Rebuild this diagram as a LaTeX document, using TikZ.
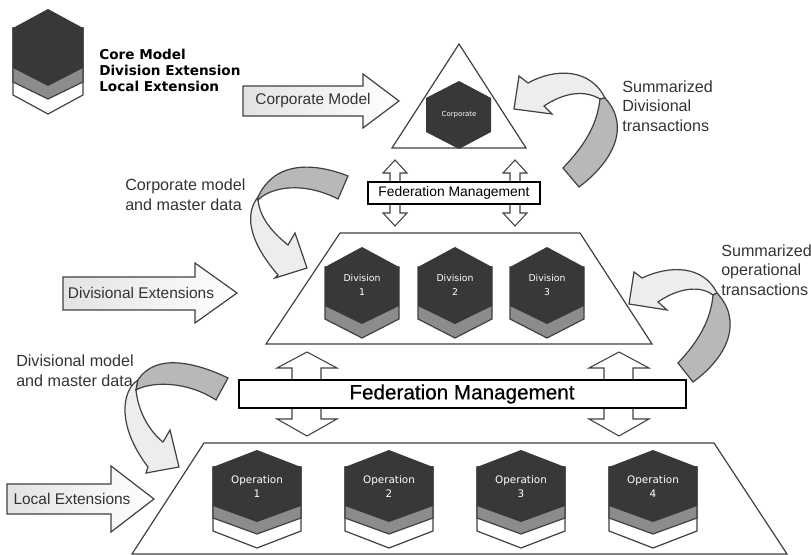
\documentclass[tikz,border=0pt]{standalone}
\usepackage{fontspec}
\setmainfont{Liberation Sans}
\newfontfamily\hexfont{DejaVu Sans}
\newfontfamily\fedfont[FakeBold=0.5]{Liberation Sans}
\usepackage{tikz}

\definecolor{line_gray}{gray}{0.25}
\definecolor{hex_dark}{gray}{0.22}
\definecolor{hex_mid}{gray}{0.55}
\definecolor{band_gray}{gray}{0.72}
\definecolor{text_gray}{gray}{0.2}

\tikzset{
	hex_line/.style={draw=line_gray,line width=0.9pt,line join=miter},
	hex_text/.style={text=white,font=\hexfont\fontsize{7}{10.2}\selectfont,align=center,inner sep=0pt},
	pics/op_hex/.style={code={
		\draw[hex_line,fill=white] (-44,17) -- (-44,81) -- (0,98) -- (44,81) -- (44,17) -- cycle;
		\draw[hex_line,fill=hex_mid] (-44,17) -- (-44,68) -- (0,84) -- (44,68) -- (44,17) -- cycle;
		\fill[hex_dark] (0,0) -- (44,17) -- (44,56) -- (0,72) -- (-44,56) -- (-44,17) -- cycle;
		\node[hex_text,font=\hexfont\fontsize{7.8}{10.5}\selectfont] (-label) at (0,37) {Operation\\#1};
	}},
	pics/div_hex/.style={code={
		\draw[hex_line,fill=hex_mid] (-37,20) -- (-37,72) -- (0,91) -- (37,72) -- (37,20) -- cycle;
		\fill[hex_dark] (0,0) -- (37,20) -- (37,59) -- (0,77) -- (-37,59) -- (-37,20) -- cycle;
		\node[hex_text] (-label) at (0,38) {Division\\#1};
	}}
}

\begin{document}
\begin{tikzpicture}[x=0.75pt,y=-0.75pt,
	flat_arrow/.style={draw=line_gray,line width=0.9pt,line join=miter,left color=gray!22,right color=white},
	curve_head/.style={draw=line_gray,line width=0.9pt,line join=miter,fill=gray!14},
	curve_band/.style={draw=line_gray,line width=0.9pt,line join=miter,fill=band_gray},
	twin_arrow/.style={draw=line_gray,line width=0.8pt,fill=white},
	tier_shape/.style={draw=line_gray,line width=0.9pt,fill=white},
	fed_box/.style={draw=black,line width=0.9pt,fill=white},
	note_label/.style={text=text_gray,font=\fontsize{12.1}{14.8}\selectfont,align=left,anchor=west,inner sep=0pt},
	arrow_label/.style={text=text_gray,font=\fontsize{11.6}{14}\selectfont,inner sep=0pt}]
	\useasboundingbox (0,0) rectangle (811,555);

	% legend
	\draw[hex_line,fill=white] (13,28) -- (13,95) -- (48,114) -- (83,95) -- (83,28) -- cycle;
	\draw[hex_line,fill=hex_mid] (13,28) -- (13,82) -- (48,99) -- (83,82) -- (83,28) -- cycle;
	\fill[hex_dark] (48,9) -- (83,28) -- (83,68) -- (48,86) -- (13,68) -- (13,28) -- cycle;
	\node[anchor=west,align=left,inner sep=0pt,font=\hexfont\bfseries\fontsize{10.2}{12}\selectfont] (legend) at (99,70) {Core Model\\Division Extension\\Local Extension};

	% corporate tier
	\draw[tier_shape] (459,44) -- (526,148) -- (392,148) -- cycle;
	\fill[hex_dark] (459,81) -- (491,98) -- (491,132) -- (459,149) -- (426,132) -- (426,98) -- cycle;
	\node[hex_text,font=\hexfont\fontsize{5.2}{6}\selectfont] (corporate) at (459,115) {Corporate};

	% twin arrows, upper
	\draw[twin_arrow] (395,160) -- (407,173) -- (400,173) -- (400,213) -- (407,213) -- (395,226) -- (383,213) -- (390,213) -- (390,173) -- (383,173) -- cycle;
	\draw[twin_arrow] (515,160) -- (527,173) -- (520,173) -- (520,213) -- (527,213) -- (515,226) -- (503,213) -- (510,213) -- (510,173) -- (503,173) -- cycle;
	\draw[fed_box] (368,182) rectangle (540,204);
	\node[font=\fontsize{10.4}{14}\selectfont,inner sep=0pt] (fed_top) at (454,193) {Federation Management};

	% division tier
	\draw[tier_shape] (340,233) -- (580,233) -- (652,344) -- (266,344) -- cycle;
	\pic (div1) at (362,247) {div_hex=1};
	\pic (div2) at (455,247) {div_hex=2};
	\pic (div3) at (547,247) {div_hex=3};

	% twin arrows, lower
	\draw[twin_arrow] (307,352) -- (337,368) -- (321,368) -- (321,419) -- (337,419) -- (307,436) -- (277,419) -- (292,419) -- (292,368) -- (277,368) -- cycle;
	\draw[twin_arrow] (619,352) -- (649,368) -- (633,368) -- (633,419) -- (649,419) -- (619,436) -- (589,419) -- (604,419) -- (604,368) -- (589,368) -- cycle;
	\draw[fed_box] (239,380) rectangle (686,408);
	\node[font=\fedfont\fontsize{15.5}{18}\selectfont,inner sep=0pt] (fed_main) at (462,394) {Federation Management};

	% operation tier
	\draw[tier_shape] (204,443) -- (714,443) -- (787,554) -- (132,554) -- cycle;
	\pic (op1) at (257,450) {op_hex=1};
	\pic (op2) at (389,450) {op_hex=2};
	\pic (op3) at (521,450) {op_hex=3};
	\pic (op4) at (653,450) {op_hex=4};

	% straight arrows
	\draw[flat_arrow] (243,86) -- (363,86) -- (363,74) -- (399,101) -- (363,128) -- (363,116) -- (243,116) -- cycle;
	\node[arrow_label] (corp_model) at (313,101) {Corporate Model};
	\draw[flat_arrow] (63,277) -- (195,277) -- (195,263) -- (237,293) -- (195,323) -- (195,310) -- (63,310) -- cycle;
	\node[arrow_label] (div_ext) at (141,293) {Divisional Extensions};
	\draw[flat_arrow] (7,484) -- (111,484) -- (111,466) -- (154,499) -- (111,532) -- (111,514) -- (7,514) -- cycle;
	\node[arrow_label] (local_ext) at (72,499) {Local Extensions};

	% curved arrows
	\draw[curve_head] (258,197) .. controls (246,212) and (246,238) .. (278,275) -- (275,278) -- (307,268) -- (295,233) -- (288,245) .. controls (272,232) and (260,218) .. (258,200) -- cycle;
	\draw[curve_band] (348,176) .. controls (315,163) and (275,160) .. (258,197) -- (258,200) .. controls (272,186) and (305,182) .. (338,199) -- cycle;

	\draw[curve_head] (138,380) .. controls (122,390) and (116,425) .. (148,467) -- (146,473) -- (179,467) -- (170,430) -- (163,442) .. controls (148,430) and (138,410) .. (136,390) -- cycle;
	\draw[curve_band] (228,378) .. controls (195,362) and (155,353) .. (138,380) -- (136,390) .. controls (150,382) and (185,380) .. (216,400) -- cycle;

	\draw[curve_head] (605,98) .. controls (590,68) and (555,68) .. (528,83) -- (519,76) -- (514,109) -- (552,114) -- (544,106) .. controls (565,92) and (585,90) .. (600,99) -- cycle;
	\draw[curve_band] (600,99) .. controls (597,125) and (585,145) .. (563,168) -- (579,187) .. controls (615,160) and (630,125) .. (605,98) -- cycle;

	\draw[curve_head] (717,293) .. controls (703,265) and (670,265) .. (642,278) -- (634,272) -- (629,304) -- (667,310) -- (658,302) .. controls (678,288) and (700,285) .. (713,295) -- cycle;
	\draw[curve_band] (713,295) .. controls (711,320) and (698,342) .. (678,363) -- (693,382) .. controls (730,355) and (742,320) .. (717,293) -- cycle;

	% notes
	\node[note_label] (note_corp) at (125,195) {Corporate model\\and master data};
	\node[note_label] (note_div) at (16,371) {Divisional model\\and master data};
	\node[note_label] (note_sum_div) at (622,106) {Summarized\\Divisional\\transactions};
	\node[note_label] (note_sum_op) at (721,270) {Summarized\\operational\\transactions};
\end{tikzpicture}
\end{document}
